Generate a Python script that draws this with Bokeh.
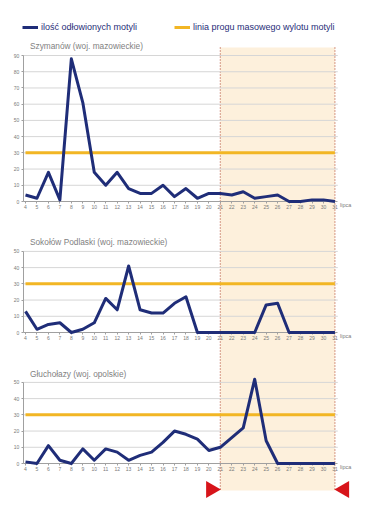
import math
from bokeh.plotting import figure
from bokeh.models import (Range1d, LinearAxis, FixedTicker, BoxAnnotation, Label,
                          Legend, LegendItem)
from bokeh.embed import file_html
from bokeh.resources import INLINE
from bokeh.core.properties import value

# ---------------- data ----------------
days = list(range(4, 32))
szymanow = [4, 2, 18, 1, 88, 61, 18, 10, 18, 8, 5, 5, 10, 3, 8, 2, 5, 5, 4, 6, 2, 3, 4, 0, 0, 1, 1, 0]
sokolow = [13, 2, 5, 6, 0, 2, 6, 21, 14, 41, 14, 12, 12, 18, 22, 0, 0, 0, 0, 0, 0, 17, 18, 0, 0, 0, 0, 0]
glucholazy = [1, 0, 11, 2, 0, 9, 2, 9, 7, 2, 5, 7, 13, 20, 18, 15, 8, 10, 16, 22, 52, 14, 0, 0, 0, 0, 0, 0]
threshold = 30
titles = ["Szymanów (woj. mazowieckie)", "Sokołów Podlaski (woj. mazowieckie)", "Głuchołazy (woj. opolskie)"]
y_max = [90, 50, 50]
y_ticks = [list(range(0, m + 1, 10)) for m in y_max]
month_label = "lipca"
band_start, band_end = 21, 31
legend_labels = ["ilość odłowionych motyli", "linia progu masowego wylotu motyli"]

# ---------------- styling / layout ----------------
BLUE = "#1f2d78"
ORANGE = "#f2b624"
GRID = "#d6d6d6"
AXIS = "#a0a0a0"
TICKTXT = "#7a7a7a"
TITLE = "#7f7f7f"
BAND = "#fdf0dc"
RED = "#d7141a"
DOT = "#b9573f"
FONT = "Liberation Sans"

W, H = 366, 513
PX = 11.46          # pixels per day
PY = 1.622          # pixels per count
X0_PX = 25          # pixel of day 4
base_px = [201, 332, 463]     # baseline (count 0) of each panel, from top
title_px = [45, 241, 373]
BAND_TOP, BAND_BOTTOM = 47, 490
TRI_Y = 489
AXIS_X = 3.8
GRID_END = 31.25

p = figure(width=W, height=H,
           x_range=Range1d(4 - X0_PX / PX, 4 + (W - X0_PX) / PX),
           y_range=Range1d(H, 0),
           output_backend="svg", toolbar_location=None, min_border=0,
           outline_line_color=None, x_axis_type=None, y_axis_type=None)
p.grid.visible = False
p.background_fill_color = "white"

extra = {}
for i, b in enumerate(base_px):
    extra[f"p{i}"] = Range1d(-(H - b) / PY, b / PY)
p.extra_y_ranges = extra

# shaded period band + dotted delimiters (page coordinates)
p.add_layout(BoxAnnotation(left=band_start, right=band_end, top=BAND_TOP, bottom=BAND_BOTTOM,
                           fill_color=BAND, fill_alpha=1, line_color=None, level="underlay"))
p.segment(x0=[band_start, band_end], x1=[band_start, band_end], y0=BAND_TOP, y1=BAND_BOTTOM,
          line_color=DOT, line_width=1.2, line_dash="1 2")

series = [szymanow, sokolow, glucholazy]
blue_rs, thr_rs = [], []
for i, vals in enumerate(series):
    rn = f"p{i}"
    gt = y_ticks[i][1:]
    p.segment(x0=AXIS_X, x1=GRID_END, y0=gt, y1=gt, y_range_name=rn,
              line_color=GRID, line_width=1)
    tr = p.line([days[0], days[-1]], [threshold, threshold], y_range_name=rn,
                line_color=ORANGE, line_width=3)
    br = p.line(days, vals, y_range_name=rn, line_color=BLUE, line_width=3,
                line_join="round", level="overlay")
    blue_rs.append(br)
    thr_rs.append(tr)

    yax = LinearAxis(y_range_name=rn, fixed_location=AXIS_X, bounds=(0, y_max[i]),
                     ticker=FixedTicker(ticks=y_ticks[i]),
                     axis_line_color=AXIS, major_tick_line_color=AXIS,
                     major_tick_out=2, major_tick_in=0, minor_tick_out=0, minor_tick_in=0,
                     major_label_text_font_size="5px", major_label_text_color=TICKTXT,
                     major_label_text_font=FONT, major_label_standoff=2)
    p.add_layout(yax, "left")
    xax = LinearAxis(y_range_name=rn, fixed_location=0, bounds=(AXIS_X, GRID_END),
                     ticker=FixedTicker(ticks=days),
                     axis_line_color=AXIS, major_tick_line_color=AXIS,
                     major_tick_out=2, major_tick_in=0, minor_tick_out=0, minor_tick_in=0,
                     major_label_text_font_size="5px", major_label_text_color=TICKTXT,
                     major_label_text_font=FONT, major_label_standoff=1)
    p.add_layout(xax, "below")
    p.text(x=[days[-1] + 0.45], y=[-2.3], text=[month_label], y_range_name=rn,
           text_font=value(FONT), text_font_size="5.5px", text_color=TICKTXT,
           text_baseline="middle", text_align="left")
    p.add_layout(Label(x=4.39, y=title_px[i], text=titles[i], text_font=FONT,
                       text_font_size="8.3px", text_color=TITLE, text_baseline="middle"))

# red triangles marking the period
p.scatter(x=[band_start - 0.81, band_end + 0.81], y=[TRI_Y, TRI_Y], marker="triangle",
          angle=[-math.pi / 2, math.pi / 2], size=17, fill_color=RED, line_color=None)

legend = Legend(items=[LegendItem(label=legend_labels[0], renderers=[blue_rs[0]]),
                       LegendItem(label=legend_labels[1], renderers=[thr_rs[0]])],
                orientation="horizontal", location=(22, H - 22 - 10),
                border_line_color=None, background_fill_alpha=0, padding=0, margin=0,
                spacing=37, glyph_width=16, glyph_height=10, label_height=10,
                label_standoff=3, label_text_font_size="9px", label_text_font=FONT,
                label_text_color=BLUE, label_text_baseline="middle")
p.add_layout(legend)

open("out.html", "w").write(file_html(p, INLINE))
